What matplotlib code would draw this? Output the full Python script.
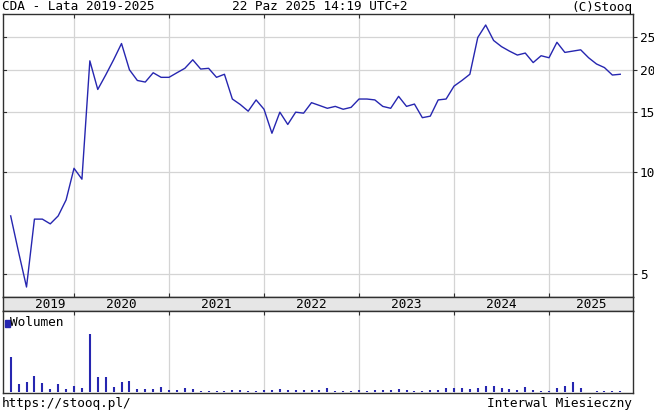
import matplotlib
matplotlib.use("Agg")
import matplotlib.pyplot as plt
import numpy as np

# monthly close, May 2019 .. Oct 2025
first_month = 4  # months after Jan 2019
close = [7.42, 5.8, 4.58, 7.26, 7.26, 7.03, 7.42, 8.27,
         10.25, 9.52, 21.25, 17.5, 19.3, 21.4, 23.9, 20.0, 18.6, 18.4, 19.6, 19.0,
         19.0, 19.6, 20.2, 21.4, 20.1, 20.2, 19.0, 19.4, 16.4, 15.8, 15.1, 16.3,
         15.3, 13.0, 15.0, 13.8, 15.0, 14.9, 16.0, 15.7, 15.4, 15.6, 15.3, 15.5,
         16.4, 16.4, 16.3, 15.6, 15.4, 16.7, 15.6, 15.85, 14.45, 14.6, 16.3, 16.4,
         17.9, 18.6, 19.4, 24.9, 27.1, 24.4, 23.4, 22.7, 22.1, 22.4, 21.0, 22.0,
         21.7, 24.1, 22.5, 22.7, 22.9, 21.7, 20.8, 20.3, 19.3, 19.4]
volume = [104, 24, 31, 48, 28, 11, 24, 9,
          20, 13, 174, 45, 45, 16, 31, 34, 10, 10, 10, 16,
          6, 8, 14, 10, 5, 5, 5, 3, 8, 6, 5, 5,
          6, 6, 9, 6, 6, 8, 8, 6, 12, 3, 5, 5,
          6, 3, 6, 8, 6, 9, 6, 5, 5, 6, 8, 12,
          12, 12, 10, 12, 20, 20, 14, 10, 6, 15, 8, 5,
          3, 12, 18, 30, 14, 2, 5, 5, 5, 3]
years = [2019, 2020, 2021, 2022, 2023, 2024, 2025]
price_ticks = [5, 10, 15, 20, 25]

x = np.arange(len(close)) + first_month
year_starts = [12 * (y - 2019) for y in years]
xmin, xmax = 3.03, 82.57

W, H = 654, 412
line_col = '#2626b0'
grid_col = '#d4d4d4'
edge_col = '#303030'
mono = 'DejaVu Sans Mono'
fs = 9.2

plt.rcParams['font.family'] = mono

fig = plt.figure(figsize=(W / 100, H / 100), dpi=100)

def px_axes(l, t, r, b):
  return fig.add_axes([l / W, 1 - b / H, (r - l) / W, (b - t) / H])

# --- price panel
ax = px_axes(3, 14, 632.7, 297)
ax.plot(x, close, color=line_col, lw=1.0)
ax.set_yscale('log')
ax.set_ylim(4.28, 29.2)
ax.set_xlim(xmin, xmax)
ax.set_yticks(price_ticks)
ax.set_yticklabels([str(t) for t in price_ticks])
ax.yaxis.set_minor_locator(matplotlib.ticker.NullLocator())
ax.yaxis.tick_right()
ax.tick_params(axis='y', which='major', direction='out', length=3, width=0.8,
               labelsize=fs, pad=2, colors=edge_col, labelcolor='black')
ax.set_xticks(year_starts[1:])
ax.tick_params(axis='x', direction='in', length=3, width=0.8, top=True, bottom=True,
               labelbottom=False, colors=edge_col)
ax.grid(True, color=grid_col, lw=0.9)
ax.set_axisbelow(True)
for s in ax.spines.values():
  s.set_color(edge_col)
  s.set_linewidth(1.0)
# small inner ticks on left border
for t in price_ticks:
  ax.plot([xmin, xmin + 0.4], [t, t], color=edge_col, lw=0.8, clip_on=False)

# --- year strip
ay = px_axes(3, 297, 632.7, 311)
ay.set_facecolor('#e6e6e6')
ay.set_xlim(xmin, xmax)
ay.set_ylim(0, 1)
ay.set_yticks([])
ay.set_xticks(year_starts[1:])
ay.tick_params(axis='x', direction='in', length=0, labelbottom=False)
bounds = [xmin] + year_starts[1:] + [xmax]
for i, yr in enumerate(years):
  ay.text((bounds[i] + bounds[i + 1]) / 2 + (1.5 if i == 0 else 0), 0.45, str(yr),
          ha='center', va='center', fontsize=fs)
for s in ay.spines.values():
  s.set_color(edge_col)
  s.set_linewidth(1.0)

# --- volume panel
av = px_axes(3, 311, 632.7, 393)
av.vlines(x, 0, volume, colors=line_col, lw=1.5)
av.set_xlim(xmin, xmax)
av.set_ylim(-1.5, 242)
av.set_yticks([])
av.set_xticks(year_starts[1:])
av.tick_params(axis='x', direction='in', length=3, width=0.8, top=True, bottom=False,
               labelbottom=False, colors=edge_col)
av.grid(True, axis='x', color=grid_col, lw=0.9)
av.set_axisbelow(True)
for s in av.spines.values():
  s.set_color(edge_col)
  s.set_linewidth(1.0)
fig.patches.append(matplotlib.patches.Rectangle((4.5 / W, 1 - 327 / H), 5 / W, 7 / H,
                   transform=fig.transFigure, color=line_col))
fig.text(10 / W, 1 - 323 / H, 'Wolumen', fontsize=fs, va='center', ha='left')

# --- header / footer
fig.text(2 / W, 1 - 7 / H, 'CDA - Lata 2019-2025', fontsize=fs, va='center', ha='left')
fig.text(320 / W, 1 - 7 / H, '22 Paz 2025 14:19 UTC+2', fontsize=fs, va='center', ha='center')
fig.text(632 / W, 1 - 7 / H, '(C)Stooq', fontsize=fs, va='center', ha='right')
fig.text(2 / W, 1 - 403 / H, 'https://stooq.pl/', fontsize=fs, va='center', ha='left')
fig.text(632 / W, 1 - 403 / H, 'Interwal Miesieczny', fontsize=fs, va='center', ha='right')

fig.savefig('out.png', dpi=100, facecolor='white')
